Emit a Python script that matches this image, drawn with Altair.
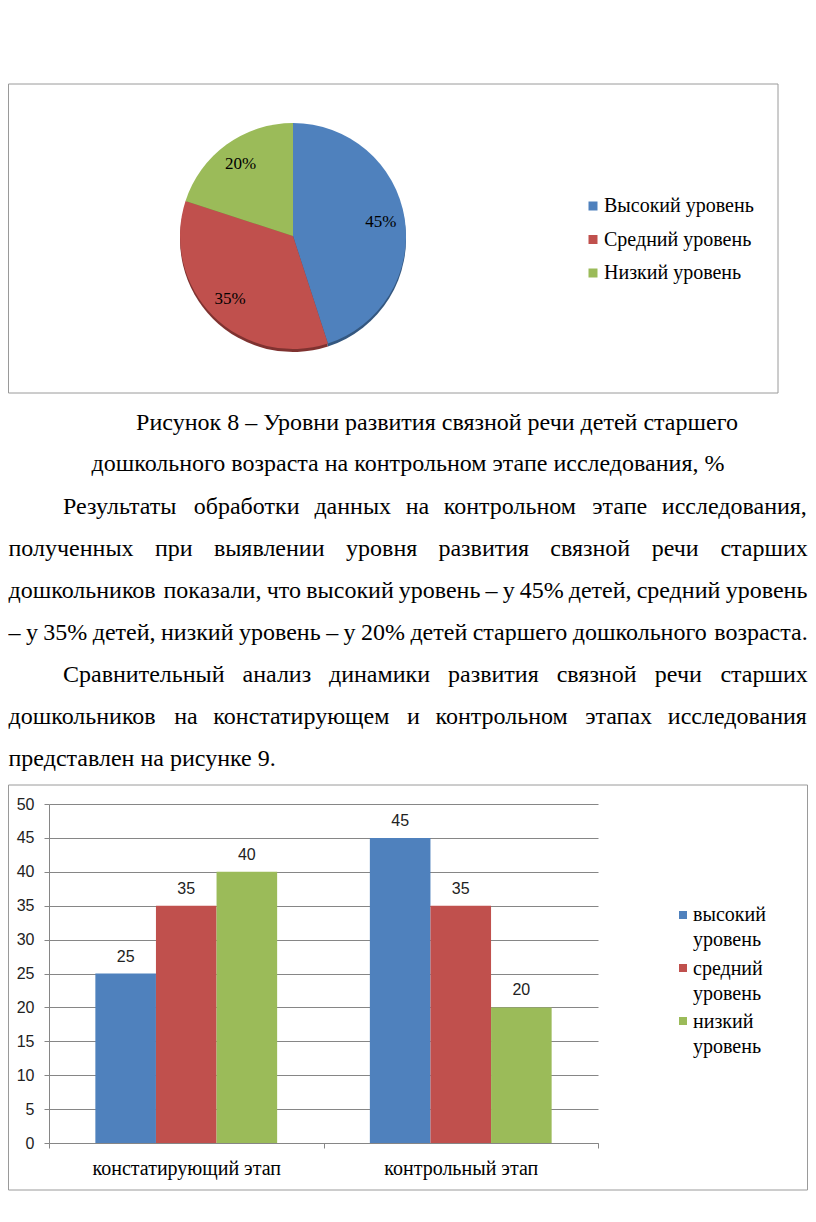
import glob
import os
import struct

import altair as alt
import pandas as pd

# ------------------------------------------------------------------ data
PIE_LEVELS = ["Высокий уровень", "Средний уровень", "Низкий уровень"]
PIE_VALUES = [45, 35, 20]
PIE_TEXT = ["45%", "35%", "20%"]

STAGES = ["констатирующий этап", "контрольный этап"]
BAR_LEVELS = ["высокий уровень", "средний уровень", "низкий уровень"]
STAGE1_VALUES = [25, 35, 40]
STAGE2_VALUES = [45, 35, 20]
Y_TICKS = [0, 5, 10, 15, 20, 25, 30, 35, 40, 45, 50]

COLORS = ["#4F81BD", "#C0504D", "#9BBB59"]
SHADOW = ["#34577f", "#7f3230", "#667f39"]

CAPTION_LINES = [
    "Рисунок 8 – Уровни развития связной речи детей старшего",
    "дошкольного возраста на контрольном этапе исследования, %",
]
BODY_LINES = [
    "Результаты обработки данных на контрольном этапе исследования,",
    "полученных при выявлении уровня развития связной речи старших",
    "дошкольников показали, что высокий уровень – у 45% детей, средний уровень",
    "– у 35% детей, низкий уровень – у 20% детей старшего дошкольного возраста.",
    "Сравнительный анализ динамики развития связной речи старших",
    "дошкольников на констатирующем и контрольном этапах исследования",
    "представлен на рисунке 9.",
]
BODY_INDENT = [True, False, False, False, True, False, False]
BODY_JUSTIFY = [True, True, True, True, True, True, False]

# ------------------------------------------------------------------ layout
SERIF = "Liberation Serif"
SANS = "Liberation Sans"
W, H = 800, 1206
M = 8  # page margin


def P(v):
    return v - M


BODY_FS = 24
TEXT_LEFT, TEXT_INDENT, TEXT_RIGHT = 8.5, 63, 807.5
CAPTION_Y = [423, 464]
CAPTION_CX = [437, 408]
BODY_Y0, BODY_DY = 507, 42

# -------------------------------------------------- font metrics (layout)
_FALLBACK = {
    " ": .25, ",": .25, ".": .25, "%": .833, "–": .5,
    "а": .444, "б": .5, "в": .47, "г": .4, "д": .5, "е": .444, "ж": .72,
    "з": .4, "и": .535, "й": .535, "к": .5, "л": .52, "м": .63, "н": .535,
    "о": .5, "п": .535, "р": .5, "с": .444, "т": .43, "у": .5, "ф": .65,
    "х": .5, "ц": .535, "ч": .5, "ш": .78, "щ": .78, "ъ": .52, "ы": .72,
    "ь": .46, "э": .44, "ю": .75, "я": .5,
}


def _fallback_width(ch):
    if ch in _FALLBACK:
        return _FALLBACK[ch]
    if ch.isdigit():
        return 0.5
    if ch.isupper():
        return 0.68
    return 0.5


def _load_font_widths():
    pats = [
        "/usr/share/fonts/**/LiberationSerif-Regular.ttf",
        "/usr/local/share/fonts/**/LiberationSerif-Regular.ttf",
        os.path.expanduser("~/.fonts/**/LiberationSerif-Regular.ttf"),
        os.path.expanduser("~/.local/share/fonts/**/LiberationSerif-Regular.ttf"),
    ]
    paths = []
    for p in pats:
        paths += glob.glob(p, recursive=True)
    if not paths:
        return None
    try:
        data = open(paths[0], "rb").read()
        ntab = struct.unpack(">H", data[4:6])[0]
        tables = {}
        for i in range(ntab):
            tag, _cs, off, ln = struct.unpack(">4sIII", data[12 + 16 * i:28 + 16 * i])
            tables[tag.decode("latin1")] = off
        upem = struct.unpack(">H", data[tables["head"] + 18:tables["head"] + 20])[0]
        nhm = struct.unpack(">H", data[tables["hhea"] + 34:tables["hhea"] + 36])[0]
        ho = tables["hmtx"]
        adv = [struct.unpack(">H", data[ho + 4 * i:ho + 4 * i + 2])[0] for i in range(nhm)]
        co = tables["cmap"]
        nsub = struct.unpack(">H", data[co + 2:co + 4])[0]
        sub = None
        for i in range(nsub):
            pid, eid, so = struct.unpack(">HHI", data[co + 4 + 8 * i:co + 12 + 8 * i])
            fmt = struct.unpack(">H", data[co + so:co + so + 2])[0]
            if fmt == 4 and (pid == 3 or pid == 0):
                sub = co + so
                break
        if sub is None:
            return None
        segx2 = struct.unpack(">H", data[sub + 6:sub + 8])[0]
        seg = segx2 // 2
        ends = struct.unpack(">%dH" % seg, data[sub + 14:sub + 14 + segx2])
        starts = struct.unpack(">%dH" % seg, data[sub + 16 + segx2:sub + 16 + 2 * segx2])
        deltas = struct.unpack(">%dh" % seg, data[sub + 16 + 2 * segx2:sub + 16 + 3 * segx2])
        rpos = sub + 16 + 3 * segx2
        roffs = struct.unpack(">%dH" % seg, data[rpos:rpos + segx2])

        def gid(c):
            for i in range(seg):
                if starts[i] <= c <= ends[i]:
                    if roffs[i] == 0:
                        return (c + deltas[i]) & 0xFFFF
                    p = rpos + 2 * i + roffs[i] + 2 * (c - starts[i])
                    g = struct.unpack(">H", data[p:p + 2])[0]
                    return (g + deltas[i]) & 0xFFFF if g else 0
            return 0

        def width(ch):
            g = gid(ord(ch))
            if g == 0:
                return _fallback_width(ch)
            return adv[min(g, nhm - 1)] / upem

        return width
    except Exception:
        return None


_font_width = _load_font_widths() or _fallback_width


def text_width(s, fs):
    return sum(_font_width(c) for c in s) * fs


# ------------------------------------------------------- text placement
left_rows, center_rows = [], []
for t, cx, y in zip(CAPTION_LINES, CAPTION_CX, CAPTION_Y):
    center_rows.append({"t": t, "x": P(cx), "y": P(y)})

for k, (line, ind, just) in enumerate(zip(BODY_LINES, BODY_INDENT, BODY_JUSTIFY)):
    y = BODY_Y0 + BODY_DY * k
    x0 = TEXT_INDENT if ind else TEXT_LEFT
    if not just:
        left_rows.append({"t": line, "x": P(x0), "y": P(y)})
        continue
    words = line.split(" ")
    ws = [text_width(w, BODY_FS) for w in words]
    gap = (TEXT_RIGHT - x0 - sum(ws)) / (len(words) - 1)
    x = x0
    for w, wd in zip(words, ws):
        left_rows.append({"t": w, "x": P(x), "y": P(y)})
        x += wd + gap

left_df = pd.DataFrame(left_rows)
center_df = pd.DataFrame(center_rows)

text_left = alt.Chart(left_df).mark_text(
    align="left", baseline="middle", font=SERIF, fontSize=BODY_FS, color="black"
).encode(x=alt.X("x:Q", scale=None), y=alt.Y("y:Q", scale=None), text="t:N")

text_center = alt.Chart(center_df).mark_text(
    align="center", baseline="middle", font=SERIF, fontSize=BODY_FS, color="black"
).encode(x=alt.X("x:Q", scale=None), y=alt.Y("y:Q", scale=None), text="t:N")

# ------------------------------------------------------------ frames
frame_df = pd.DataFrame({
    "x": [P(8.5), P(8.5)], "x2": [P(778), P(807.5)],
    "y": [P(84), P(785)], "y2": [P(393), P(1190)],
})
frames = alt.Chart(frame_df).mark_rect(
    fillOpacity=0, stroke="#9a9a9a", strokeWidth=1
).encode(
    x=alt.X("x:Q", scale=None), x2="x2:Q",
    y=alt.Y("y:Q", scale=None), y2="y2:Q",
)

# ------------------------------------------------------------ pie
PIE_CX, PIE_CY, PIE_R = 293, 236, 113
pie_df = pd.DataFrame({"level": PIE_LEVELS, "v": PIE_VALUES, "lab": PIE_TEXT, "i": [0, 1, 2]})

pie_shadow = alt.Chart(pie_df).mark_arc(outerRadius=PIE_R).encode(
    theta=alt.Theta("v:Q", stack=True),
    order=alt.Order("i:Q"),
    color=alt.Color("level:N", scale=alt.Scale(domain=PIE_LEVELS, range=SHADOW), legend=None),
    x=alt.value(P(PIE_CX)), y=alt.value(P(PIE_CY + 3)),
)
pie = alt.Chart(pie_df).mark_arc(outerRadius=PIE_R).encode(
    theta=alt.Theta("v:Q", stack=True),
    order=alt.Order("i:Q"),
    color=alt.Color("level:N", scale=alt.Scale(domain=PIE_LEVELS, range=COLORS), legend=None),
    x=alt.value(P(PIE_CX)), y=alt.value(P(PIE_CY)),
)
pie_labels = alt.Chart(pie_df).mark_text(
    radius=89, font=SERIF, fontSize=17, color="black", baseline="middle"
).encode(
    theta=alt.Theta("v:Q", stack=True),
    order=alt.Order("i:Q"),
    text="lab:N",
    x=alt.value(P(PIE_CX)), y=alt.value(P(PIE_CY)),
)

pl_df = pd.DataFrame({"level": PIE_LEVELS, "i": [0, 1, 2]})
pl_sq = alt.Chart(pl_df).mark_square(size=81, opacity=1).encode(
    x=alt.value(P(593)),
    y=alt.Y("i:Q", scale=alt.Scale(domain=[0, 2], range=[P(206), P(273)], nice=False, zero=False), axis=None),
    color=alt.Color("level:N", scale=alt.Scale(domain=PIE_LEVELS, range=COLORS), legend=None),
)
pl_txt = alt.Chart(pl_df).mark_text(
    align="left", baseline="middle", font=SERIF, fontSize=20, color="black"
).encode(
    x=alt.value(P(604)),
    y=alt.Y("i:Q", scale=alt.Scale(domain=[0, 2], range=[P(206), P(273)], nice=False, zero=False), axis=None),
    text="level:N",
)

# ------------------------------------------------------------ bars
bar_rows = []
for stage, vals in zip(STAGES, [STAGE1_VALUES, STAGE2_VALUES]):
    for lev, v in zip(BAR_LEVELS, vals):
        bar_rows.append({"stage": stage, "level": lev, "value": v})
bar_df = pd.DataFrame(bar_rows)

GRID = "#868686"
x_enc = alt.X(
    "stage:N", sort=STAGES,
    scale=alt.Scale(domain=STAGES, range=[P(49), P(598)], paddingInner=0, paddingOuter=0),
    axis=alt.Axis(
        orient="bottom", offset=-(H - P(1143)), title=None, tickBand="extent",
        tickSize=5, tickColor=GRID, domainColor=GRID, grid=False,
        labelFont=SERIF, labelFontSize=20, labelColor="black", labelPadding=10,
        labelAngle=0, labelLimit=500,
    ),
)
xo_enc = alt.XOffset(
    "level:N", sort=BAR_LEVELS,
    scale=alt.Scale(domain=BAR_LEVELS, paddingInner=0, paddingOuter=0.765),
)
y_enc = alt.Y(
    "value:Q",
    scale=alt.Scale(domain=[0, 50], range=[P(1143), P(804)], nice=False, zero=True),
    axis=alt.Axis(
        orient="left", offset=-P(49), title=None, values=Y_TICKS,
        grid=True, gridColor=GRID, tickSize=5, tickColor=GRID, domainColor=GRID,
        labelFont=SANS, labelFontSize=16, labelColor="#222222", labelPadding=10,
    ),
)
bars = alt.Chart(bar_df).mark_bar().encode(
    x=x_enc, xOffset=xo_enc, y=y_enc,
    color=alt.Color("level:N", scale=alt.Scale(domain=BAR_LEVELS, range=COLORS), legend=None),
)
bar_labels = alt.Chart(bar_df).mark_text(
    dy=-17, baseline="middle", font=SANS, fontSize=16, color="#222222"
).encode(x=x_enc, xOffset=xo_enc, y=y_enc, text="value:Q")
bar_layer = alt.layer(bars, bar_labels)

bl_df = pd.DataFrame({"level": BAR_LEVELS, "i": [0, 1, 2]})
bl_sq = alt.Chart(bl_df).mark_square(size=64, opacity=1).encode(
    x=alt.value(P(683)),
    y=alt.Y("i:Q", scale=alt.Scale(domain=[0, 2], range=[P(915), P(1021)], nice=False, zero=False), axis=None),
    color=alt.Color("level:N", scale=alt.Scale(domain=BAR_LEVELS, range=COLORS), legend=None),
)
bl_txt = alt.Chart(bl_df).mark_text(
    align="left", baseline="middle", font=SERIF, fontSize=20, color="black",
    lineBreak=" ", lineHeight=25,
).encode(
    x=alt.value(P(693)),
    y=alt.Y("i:Q", scale=alt.Scale(domain=[0, 2], range=[P(915), P(1022)], nice=False, zero=False), axis=None),
    text="level:N",
)

chart = alt.layer(
    frames, pie_shadow, pie, pie_labels, pl_sq, pl_txt,
    text_left, text_center, bar_layer, bl_sq, bl_txt,
).resolve_scale(
    x="independent", y="independent", color="independent",
    theta="independent", xOffset="independent",
).properties(
    width=W, height=H, padding=0, background="white",
    autosize=alt.AutoSizeParams(type="none"),
).configure_view(strokeWidth=0)

chart.save("out.html", embed_options={"renderer": "svg", "actions": False})
